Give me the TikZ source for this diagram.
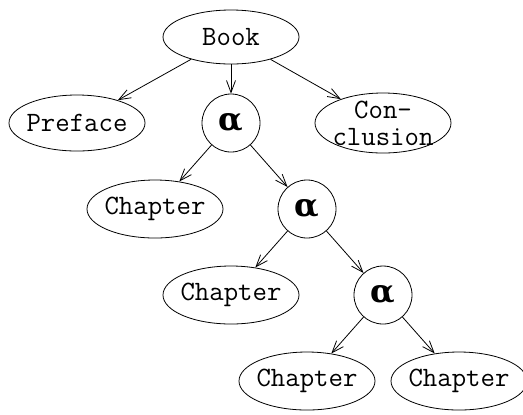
\documentclass[tikz,border=0pt]{standalone}
\usepackage{fontspec}
\newfontfamily\greekfont{DejaVu Serif}
\usetikzlibrary{shapes,arrows.meta,positioning}

\begin{document}
\begin{tikzpicture}[node distance=43pt and 38pt, on grid, font=\ttfamily\fontsize{14}{13.5}\selectfont]
    % Stili
    \tikzset{part/.style={ellipse, draw, thin, minimum width=68pt, minimum height=29pt, inner xsep=-5pt, inner ysep=0pt, align=center}}
    \tikzset{alpha/.style={circle, draw, thin, minimum size=29pt, inner sep=0pt, font=\greekfont\bfseries\fontsize{16}{16}\selectfont}}
    \tikzset{arrow/.style={-{Straight Barb[length=6pt,width=4.5pt]}, thin}}

    \useasboundingbox (0,0) rectangle (261.5pt,-207pt);

    % Nodi
    \node (book) [part, minimum height=27pt] at (115.5pt,-18.5pt) {Book};
    \node (alphaA) [alpha, below=of book] {α};
    \node (preface) [part, left=77pt of alphaA, minimum height=28pt] {Preface};
    \node (conclusion) [part, right=76pt of alphaA, minimum height=30pt, inner ysep=-2pt] {Con-\\clusion};
    \node (chapterA) [part, below left=of alphaA] {Chapter};
    \node (alphaB) [alpha, below right=of alphaA] {α};
    \node (chapterB) [part, below left=of alphaB] {Chapter};
    \node (alphaC) [alpha, below right=of alphaB] {α};
    \node (chapterC) [part, below left=of alphaC] {Chapter};
    \node (chapterD) [part, below right=of alphaC] {Chapter};

    % Collegamenti
    \draw [arrow] (book) -- (preface);
    \draw [arrow] (book) -- (alphaA);
    \draw [arrow] (book) -- (conclusion);
    \draw [arrow] (alphaA) -- (chapterA);
    \draw [arrow] (alphaA) -- (alphaB);
    \draw [arrow] (alphaB) -- (chapterB);
    \draw [arrow] (alphaB) -- (alphaC);
    \draw [arrow] (alphaC) -- (chapterC);
    \draw [arrow] (alphaC) -- (chapterD);

\end{tikzpicture}
\end{document}
